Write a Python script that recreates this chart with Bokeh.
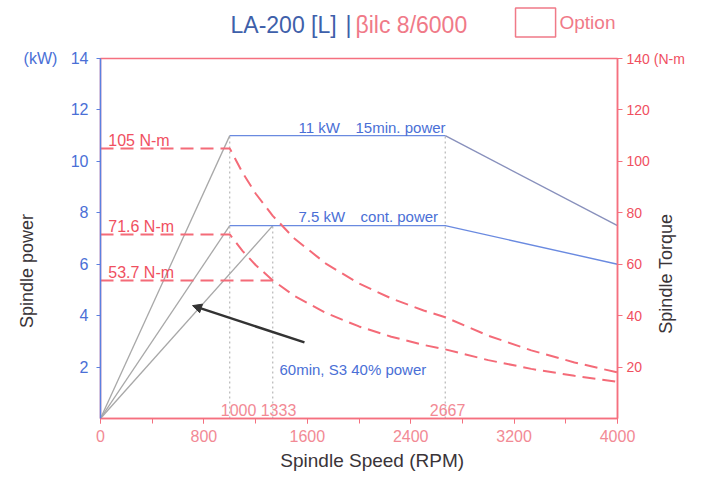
import math
from bokeh.plotting import figure
from bokeh.layouts import column
from bokeh.models import (Range1d, LinearAxis, FixedTicker, SingleIntervalTicker,
                          Arrow, NormalHead, ColumnDataSource)
from bokeh.core.properties import value
from bokeh.embed import file_html
from bokeh.resources import INLINE

# ---------------- data ----------------
power_15min_rpm = [1000, 2667, 4000]
power_15min_kw = [11.0, 11.0, 7.5]
power_cont_rpm = [1000, 2667, 4000]
power_cont_kw = [7.5, 7.5, 6.0]
ramp_end_rpm = [1000, 1000, 1333]
ramp_end_kw = [11.0, 7.5, 7.5]

torque_rpm = [0, 1000, 1100, 1200, 1333, 1500, 1750, 2000, 2250, 2500, 2667, 3000, 3333, 3667, 4000]
torque_15min = [105, 105, 95.5, 87.5, 78.8, 70.0, 60.0, 52.5, 46.7, 42.0, 39.4, 32.2, 26.5, 21.8, 17.9]
torque_cont = [71.6, 71.6, 65.1, 59.7, 53.7, 47.7, 40.9, 35.8, 31.8, 28.6, 26.9, 22.7, 19.3, 16.6, 14.3]
torque_s3_rpm = [0, 1333]
torque_s3 = [53.7, 53.7]

rated_torques = [105, 71.6, 53.7]
rated_labels = ["105 N-m", "71.6 N-m", "53.7 N-m"]
base_speeds = [1000, 1333, 2667]
base_speed_top_kw = [11.0, 7.5, 11.0]
base_speed_labels = ["1000", "1333", "2667"]

power_ticks = [2, 4, 6, 8, 10, 12, 14]
torque_ticks = [20, 40, 60, 80, 100, 120, 140]

title_model = "LA-200 [L]"
title_motor = "\u03b2ilc 8/6000"
legend_option = "Option"

# ---------------- styling ----------------
FONT = "Liberation Sans"
BLUE_AX = "#5b80e0"
BLUE_TXT = "#4a6fd6"
BLUE_LINE = "#6a8ae0"
RED_AX = "#f5707f"
RED_TXT = "#f0505f"
PINK_TXT = "#f28a95"
TITLE_PINK = "#f07a88"
DASH_RED = "#f46b78"
GRAY = "#a8a8a8"
DARK = "#3a3438"
NB = "\u00a0"

W = 690
TOP_H = 42
MAIN_H = 477 - TOP_H

# ---------------- title strip (frame aligned with the main chart) ----------------
t = figure(width=W, height=TOP_H, output_backend="svg", toolbar_location=None,
           x_range=Range1d(0, 4000), y_range=Range1d(TOP_H, 0),
           x_axis_location=None, y_axis_location=None)
t.min_border_left = 100
t.min_border_right = 73
t.min_border_top = 0
t.min_border_bottom = 0
t.outline_line_color = None
t.xgrid.visible = False
t.ygrid.visible = False
t.text(x=[1006, 1896], y=[24, 24], text=[title_model, "|"], text_color="#3e60aa",
       text_font=value(FONT), text_font_size="23px", text_baseline="middle")
t.text(x=[1973], y=[24], text=[title_motor], text_color=TITLE_PINK,
       text_font=value(FONT), text_font_size="23px", text_baseline="middle")
t.rect(x=[3366], y=[22], width=[310], height=[29], fill_color=None,
       line_color=TITLE_PINK, line_width=1.5)
t.text(x=[3551], y=[22], text=[legend_option], text_color=TITLE_PINK,
       text_font=value(FONT), text_font_size="19px", text_baseline="middle")

# ---------------- main chart ----------------
p = figure(width=W, height=MAIN_H, output_backend="svg", toolbar_location=None,
           x_range=Range1d(0, 4000), y_range=Range1d(0, 14))
p.min_border_left = 100
p.min_border_right = 73
p.min_border_top = 58 - TOP_H
p.min_border_bottom = MAIN_H - (418 - TOP_H)
p.xgrid.visible = False
p.ygrid.visible = False
p.outline_line_color = RED_AX
p.outline_line_width = 1.5

p.extra_y_ranges = {"torque": Range1d(0, 140)}

# left axis
ya = p.yaxis[0]
ya.ticker = FixedTicker(ticks=power_ticks)
ya.major_label_overrides = {14: "(kW)" + NB * 3 + "14"}
ya.axis_line_color = BLUE_AX
ya.axis_line_width = 1.5
ya.major_tick_line_color = BLUE_AX
ya.major_tick_out = 4
ya.major_tick_in = 0
ya.minor_tick_line_color = None
ya.major_label_text_color = BLUE_TXT
ya.major_label_text_font = FONT
ya.major_label_text_font_size = "16px"
ya.major_label_standoff = 8
ya.axis_label = "Spindle power" + NB * 13
ya.axis_label_text_font = FONT
ya.axis_label_text_font_size = "18px"
ya.axis_label_text_font_style = "normal"
ya.axis_label_text_color = DARK
ya.axis_label_standoff = -16

# right axis (torque scale)
ra = LinearAxis(y_range_name="torque", ticker=FixedTicker(ticks=torque_ticks))
ra.major_label_overrides = {140: "140" + NB + "(N-m"}
ra.axis_line_color = RED_AX
ra.axis_line_width = 1.5
ra.major_tick_line_color = RED_AX
ra.major_tick_out = 5
ra.major_tick_in = 0
ra.minor_tick_line_color = None
ra.major_label_text_color = RED_TXT
ra.major_label_text_font = FONT
ra.major_label_text_font_size = "14px"
ra.major_label_standoff = 4
p.add_layout(ra, "right")

# outer right axis carrying only the rotated title "Spindle Torque"
TORQUE_TITLE_AT = 33
rt = LinearAxis(y_range_name="torque", ticker=FixedTicker(ticks=[TORQUE_TITLE_AT]))
rt.major_label_overrides = {TORQUE_TITLE_AT: "Spindle Torque"}
rt.major_label_orientation = math.pi / 2
rt.axis_line_color = None
rt.major_tick_line_color = None
rt.minor_tick_line_color = None
rt.major_tick_out = 0
rt.major_tick_in = 0
rt.major_label_text_color = DARK
rt.major_label_text_font = FONT
rt.major_label_text_font_size = "18px"
rt.major_label_standoff = -21
p.add_layout(rt, "right")

# bottom axis
xa = p.xaxis[0]
xa.ticker = SingleIntervalTicker(interval=800, num_minor_ticks=2)
xa.axis_line_color = RED_AX
xa.axis_line_width = 1.5
xa.major_tick_line_color = RED_AX
xa.minor_tick_line_color = RED_AX
xa.major_tick_out = 5
xa.major_tick_in = 0
xa.minor_tick_out = 5
xa.minor_tick_in = 0
xa.major_label_text_color = PINK_TXT
xa.major_label_text_font = FONT
xa.major_label_text_font_size = "16px"
xa.major_label_standoff = 6
xa.axis_label = NB * 5 + "Spindle Speed (RPM)"
xa.axis_label_text_font = FONT
xa.axis_label_text_font_size = "19px"
xa.axis_label_text_font_style = "normal"
xa.axis_label_text_color = DARK
xa.axis_label_standoff = 5

# ---------------- lines ----------------
for sx, top in zip(base_speeds, base_speed_top_kw):
    p.line([sx, sx], [0, top], line_color=GRAY, line_dash="2 3", line_width=1)

for ex, ey in zip(ramp_end_rpm, ramp_end_kw):
    p.line([0, ex], [0, ey], line_color=GRAY, line_width=1.3)

p.line(power_15min_rpm[:2], power_15min_kw[:2], line_color=BLUE_LINE, line_width=1.4)
p.line(power_15min_rpm[1:], power_15min_kw[1:], line_color="#8890bc", line_width=1.4)
p.line(power_cont_rpm, power_cont_kw, line_color=BLUE_LINE, line_width=1.4)

for tq_x, tq_y in ((torque_rpm, torque_15min), (torque_rpm, torque_cont),
                   (torque_s3_rpm, torque_s3)):
    p.line(tq_x, tq_y, y_range_name="torque", line_color=DASH_RED,
           line_dash="13 7", line_width=2)

# ---------------- in-plot texts ----------------
rated_src = ColumnDataSource(dict(x=[60] * 3, y=[tq + 3 for tq in rated_torques], t=rated_labels))
p.text(x="x", y="y", text="t", source=rated_src, y_range_name="torque",
       text_color=RED_TXT, text_font=value(FONT), text_font_size="16px",
       text_baseline="middle", text_align="left")

label_shift = [68, 44, 18]
bs_src = ColumnDataSource(dict(x=[s + d for s, d in zip(base_speeds, label_shift)],
                               y=[0.35] * 3, t=base_speed_labels))
p.text(x="x", y="y", text="t", source=bs_src, text_color=PINK_TXT,
       text_font=value(FONT), text_font_size="16px", text_baseline="middle",
       text_align="center")

p.text(x=[1532, 1973], y=[11.0 + 0.33] * 2, text=["11 kW", "15min. power"],
       text_color=BLUE_TXT, text_font=value(FONT), text_font_size="15px",
       text_baseline="middle", text_align="left")
p.text(x=[1532, 2012], y=[7.5 + 0.36] * 2, text=["7.5 kW", "cont. power"],
       text_color=BLUE_TXT, text_font=value(FONT), text_font_size="15px",
       text_baseline="middle", text_align="left")
p.text(x=[1385], y=[1.91], text=["60min, S3 40% power"],
       text_color=BLUE_TXT, text_font=value(FONT), text_font_size="15px",
       text_baseline="middle", text_align="left")

p.add_layout(Arrow(end=NormalHead(size=9, fill_color="#333333", line_color="#333333"),
                   x_start=1578, y_start=2.96, x_end=712, y_end=4.39,
                   line_color="#333333", line_width=2.5))

layout = column(t, p)
open("out.html", "w").write(file_html(layout, INLINE))
